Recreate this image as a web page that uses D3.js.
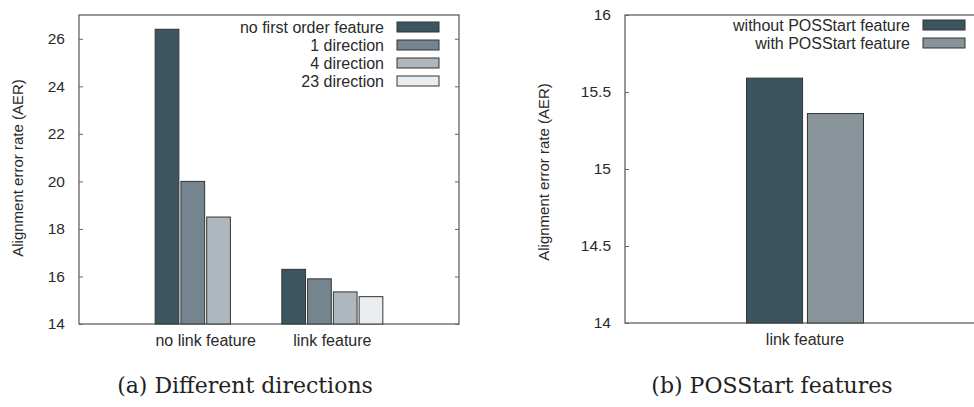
<!DOCTYPE html>
<html>
<head>
<meta charset="utf-8">
<script src="https://d3js.org/d3.v7.min.js"></script>
<style>
  body {margin:0; background:#fff;}
  svg text {font-family:'Liberation Sans',Arial,sans-serif; fill:#2a2a2a;}
  .cap {font-family:'DejaVu Serif','Liberation Serif',serif; fill:#222;}
</style>
</head>
<body>
<svg id="fig" width="974" height="407"></svg>
<script>
// panel (a): different directions
var groupsA = ['no link feature', 'link feature'];
var seriesA = ['no first order feature', '1 direction', '4 direction', '23 direction'];
var valuesA = [
  [26.4, 20.0, 18.5, null],
  [16.3, 15.9, 15.35, 15.15]
];
var ticksA = [14, 16, 18, 20, 22, 24, 26];
var colorsA = ['#3b5661', '#75858f', '#aeb7be', '#e9edf0'];

// panel (b): POSStart features
var groupsB = ['link feature'];
var seriesB = ['without POSStart feature', 'with POSStart feature'];
var valuesB = [[15.59, 15.36]];
var ticksB = [14, 14.5, 15, 15.5, 16];
var colorsB = ['#3a5560', '#89939a'];

var svg = d3.select('#fig');

function panel(o) {
  var g = svg.append('g');
  var x = d3.scaleLinear().domain(o.xdom).range([o.left, o.right]);
  var y = d3.scaleLinear().domain(o.ydom).range([o.bottom, o.top]);
  var n = o.series.length;

  // frame
  g.append('rect').attr('x', o.left).attr('y', o.top)
   .attr('width', o.right - o.left).attr('height', o.bottom - o.top)
   .attr('fill', 'none').attr('stroke', '#555').attr('stroke-width', 1.2);

  // y ticks + labels
  var ya = d3.axisLeft(y).tickValues(o.ticks).tickSize(-4).tickPadding(14)
             .tickFormat(function(d){return String(d);});
  var ax = g.append('g').attr('transform', 'translate(' + o.left + ',0)').call(ya);
  ax.select('.domain').remove();
  ax.selectAll('line').attr('stroke', '#666');
  ax.selectAll('text').style('font-size', '15.5px').attr('fill', '#2a2a2a')
    .style('font-family', "'Liberation Sans',Arial,sans-serif");
  // mirror ticks on right
  var yr = d3.axisRight(y).tickValues(o.ticks).tickSize(-4).tickFormat('');
  var ar = g.append('g').attr('transform', 'translate(' + o.right + ',0)').call(yr);
  ar.select('.domain').remove();
  ar.selectAll('line').attr('stroke', '#666');

  // bars
  o.values.forEach(function(row, gi) {
    var band = d3.scaleBand().domain(d3.range(n))
                 .range([x(gi) - o.gw / 2, x(gi) + o.gw / 2]).paddingInner(o.pad);
    row.forEach(function(v, si) {
      if (v == null) return;
      g.append('rect').attr('x', band(si)).attr('y', y(v))
       .attr('width', band.bandwidth()).attr('height', y(o.ydom[0]) - y(v))
       .attr('fill', o.colors[si]).attr('stroke', '#333').attr('stroke-width', 1);
    });
    g.append('text').attr('x', x(gi)).attr('y', o.bottom + 22)
     .attr('text-anchor', 'middle').style('font-size', '16px').text(o.groups[gi]);
  });

  // legend
  o.series.forEach(function(s, i) {
    var yy = o.legY + i * o.legStep;
    g.append('text').attr('x', o.legX).attr('y', yy + 5.5)
     .attr('text-anchor', 'end').style('font-size', '16px').text(s);
    g.append('rect').attr('x', o.legX + 13).attr('y', yy - 5)
     .attr('width', 42).attr('height', 10)
     .attr('fill', o.colors[i]).attr('stroke', '#333').attr('stroke-width', 1);
  });

  // y label
  g.append('text').attr('transform', 'translate(' + o.ylx + ',' + o.yly + ') rotate(-90)')
   .attr('text-anchor', 'middle').style('font-size', '15px')
   .text('Alignment error rate (AER)');

  // caption
  g.append('text').attr('class', 'cap').attr('x', o.capX).attr('y', 393)
   .attr('text-anchor', 'middle').style('font-size', '22px').text(o.caption);
}

panel({
  left: 79, right: 459, top: 15, bottom: 324,
  xdom: [-1, 2], ydom: [14, 27], ticks: ticksA,
  groups: groupsA, series: seriesA, values: valuesA, colors: colorsA,
  gw: 101, pad: 0.08,
  legX: 384, legY: 27, legStep: 18,
  ylx: 23, yly: 168, capX: 245, caption: '(a) Different directions'
});

panel({
  left: 625, right: 985, top: 15, bottom: 323,
  xdom: [-1, 1], ydom: [14, 16], ticks: ticksB,
  groups: groupsB, series: seriesB, values: valuesB, colors: colorsB,
  gw: 117, pad: 0.08,
  legX: 910, legY: 25, legStep: 18,
  ylx: 549, yly: 172, capX: 772, caption: '(b) POSStart features'
});
</script>
</body>
</html>
